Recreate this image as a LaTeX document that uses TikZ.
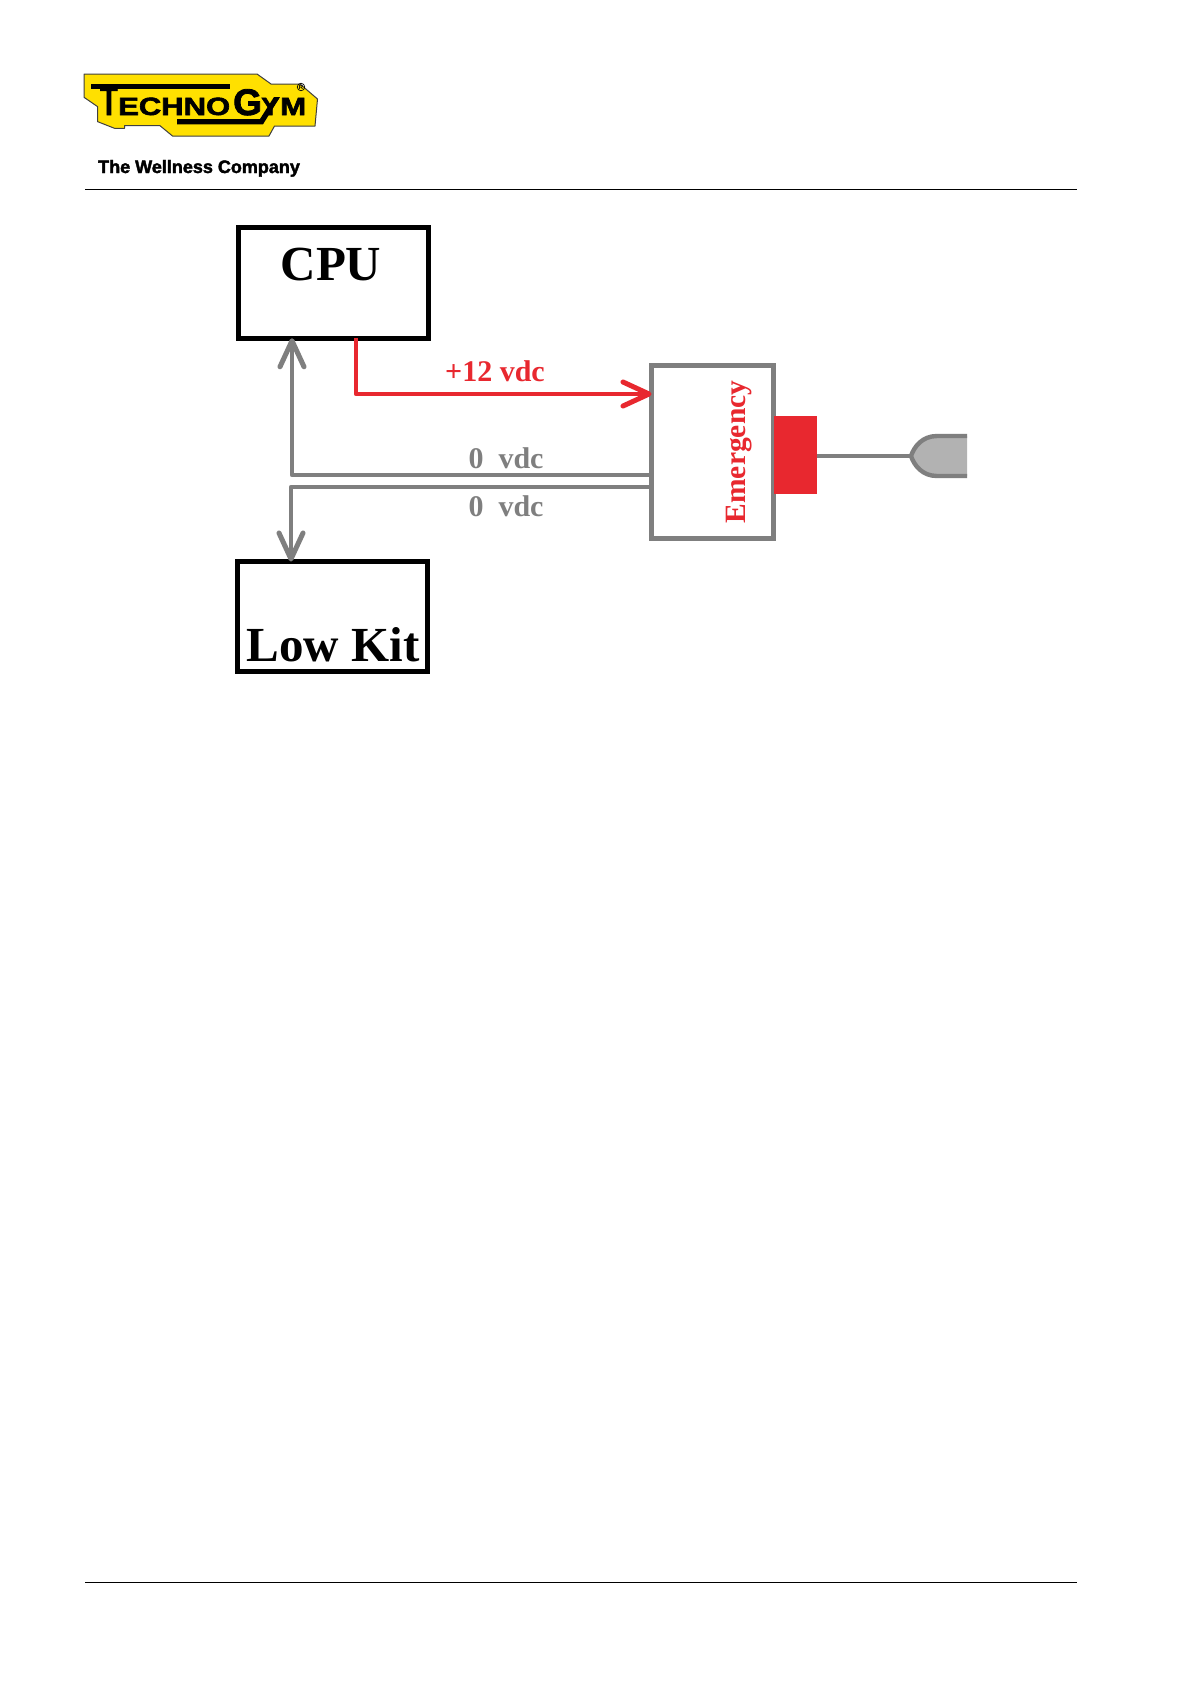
\documentclass[tikz,border=0pt]{standalone}
\usepackage{fontspec}
\usepackage{graphicx}
\usetikzlibrary{arrows.meta}
\setmainfont{Liberation Serif}
\newfontfamily\heavy[FakeBold=2.2]{Liberation Sans Bold}
\newfontfamily\plainbold{Liberation Sans Bold}
\definecolor{wirered}{HTML}{E8282F}
\definecolor{wiregray}{HTML}{7F7F7F}
\definecolor{logoyellow}{HTML}{FFE000}
\definecolor{handlefill}{HTML}{B2B2B2}
\tikzset{
  blackbox/.style={draw=black,line width=4.6pt,fill=white,minimum width=190pt,outer sep=0pt,inner sep=0pt},
  bigtxt/.style={font=\fontsize{49}{49}\selectfont\bfseries,anchor=base,inner sep=0pt,text=black},
  smalltxt/.style={font=\fontsize{30}{30}\selectfont\bfseries,anchor=base,inner sep=0pt},
  wire/.style={line width=4.6pt,line join=round},
  tip/.style={-{Straight Barb[length=26pt,width=24pt,line width=5pt,round]}},
  logotxt/.style={font=\heavy,anchor=base west,inner sep=0pt,text=black},
  rule/.style={draw=black,line width=1.1pt}
}
\begin{document}
\begin{tikzpicture}[x=1pt,y=-1pt]
\useasboundingbox (0,0) rectangle (1191,1684);
\fill[white] (0,0) rectangle (1191,1684);
% header
\coordinate (ruleAl) at (85,189.5); \coordinate (ruleAr) at (1077,189.5);
\coordinate (ruleBl) at (85,1582.5); \coordinate (ruleBr) at (1077,1582.5);
\draw[rule] (ruleAl) -- (ruleAr);
\draw[rule] (ruleBl) -- (ruleBr);
% logo
\draw[fill=logoyellow,draw=black!75,line width=1pt,line join=round]
  (84,74) -- (257,74) -- (271,84) -- (300,84) -- (317.5,99) -- (315,126) -- (274.5,126)
  -- (269,136) -- (172.5,136) -- (160,125.7) -- (124.5,125.7) -- (124.5,128.3) -- (114.5,128.3)
  -- (97.7,121.7) -- (97.7,106.7) -- (84,97.3) -- cycle;
\fill[black] (91,84.4) rectangle (230,88.6);
\node[logotxt] (logoT) at (100,115) {\fontsize{42}{42}\selectfont\scalebox{.68}[1]{T}};
\node[logotxt] (logoE) at (118,115) {\fontsize{25}{25}\selectfont\scalebox{1.24}[1]{ECHNO}};
\node[logotxt] (logoG) at (233,115) {\fontsize{37}{37}\selectfont G};
\node[logotxt] (logoY) at (261,115) {\fontsize{25}{25}\selectfont\scalebox{1.1}[1]{Y}};
\node[logotxt] (logoM) at (280,115) {\fontsize{25}{25}\selectfont\scalebox{1.25}[1]{M}};
\fill[black] (177,119) -- (260,119) -- (274,97) -- (280,97) -- (263,124.3) -- (177,124.3) -- cycle;
\node[circle,draw=black,line width=.7pt,inner sep=0pt,minimum size=7.5pt,font=\plainbold\fontsize{6}{6}\selectfont] (logoR) at (301,87) {R};
\node[font=\heavy\fontsize{18}{18}\selectfont,anchor=base west,inner sep=0pt] (tag) at (98,173) {The Wellness Company};
% boxes
\node[blackbox,minimum height=110.5pt] (cpu) at (333.5,283) {};
\node[bigtxt] (cpulbl) at (331,280) {CPU};
\node[blackbox,minimum height=110pt] (low) at (332.5,616.5) {};
\node[bigtxt] (lowlbl) at (333,661) {Low Kit};
\node[draw=wiregray,line width=5pt,fill=white,minimum width=122pt,minimum height=173pt,outer sep=0pt,inner sep=0pt] (emg) at (712.5,452) {};
\node[smalltxt,text=wirered,rotate=90,font=\fontsize{29.5}{29.5}\selectfont\bfseries] (emglbl) at (745,452) {Emergency};
\node[fill=wirered,minimum width=43pt,minimum height=78pt,outer sep=0pt,inner sep=0pt] (btn) at (795.5,455) {};
% handle
\coordinate (hand) at (911,456);
\fill[handlefill] (967,436) -- (937,436) .. controls (922,436) and (914,447) .. (hand) .. controls (914,465) and (922,476) .. (937,476) -- (967,476) -- cycle;
\draw[wiregray,line width=4.4pt] (967,436) -- (937,436) .. controls (922,436) and (914,447) .. (hand) .. controls (914,465) and (922,476) .. (937,476) -- (967,476);
\draw[wiregray,line width=4.4pt] (btn.east |- hand) -- (hand);
% wires
\coordinate (rx) at (356,394);
\coordinate (g1) at (292,475);
\coordinate (g2) at (291,487);
\draw[wire,tip,wirered] (cpu.south -| rx) |- (emg.west |- rx);
\draw[wire,tip,wiregray] (emg.west |- g1) -| (cpu.south -| g1);
\draw[wire,tip,wiregray] (emg.west |- g2) -| (low.north -| g2);
% labels
\node[smalltxt,text=wirered] (lbl12) at (495,381) {+12 vdc};
\node[smalltxt,text=wiregray] (lbl0a) at (506,468) {0\hspace{15pt}vdc};
\node[smalltxt,text=wiregray] (lbl0b) at (506,516) {0\hspace{15pt}vdc};
\end{tikzpicture}
\end{document}
